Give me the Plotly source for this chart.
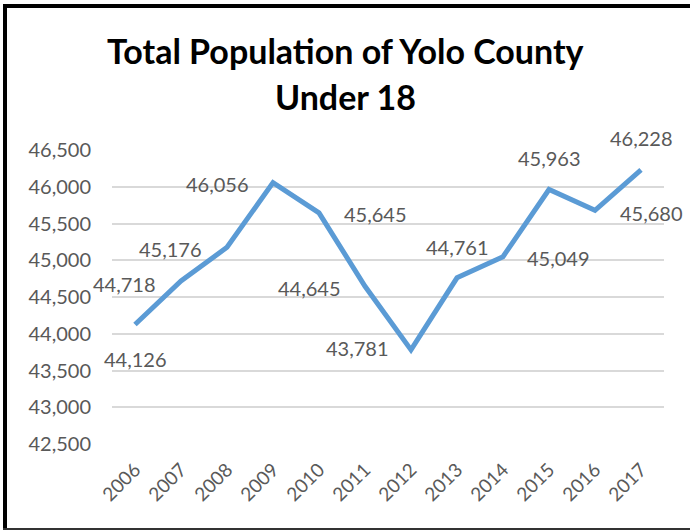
import plotly.graph_objects as go

years = [2006, 2007, 2008, 2009, 2010, 2011, 2012, 2013, 2014, 2015, 2016, 2017]
population = [44126, 44718, 45176, 46056, 45645, 44645, 43781, 44761, 45049, 45963, 45680, 46228]
title_lines = ["Total Population of Yolo County", "Under 18"]
# label placement relative to each point: (dx px, dy px)
label_offsets = [(0, 35), (-57, 3), (-57, 2), (-56, 1), (56, 1), (-56, 2), (-54, -2),
                 (0, -31), (55, 1), (0, -31), (56, 3), (0, -32)]

W, H = 690, 531
L, R, T, B = 112, 26, 150, 87
FONT = "Lato"
GRAY = "#595959"

fig = go.Figure()
fig.add_trace(go.Scatter(
    x=years, y=population, mode="lines",
    line=dict(color="#5B9BD5", width=5), hoverinfo="x+y",
))

for yr, v, (dx, dy) in zip(years, population, label_offsets):
    fig.add_annotation(x=yr, y=v, text=f"{v:,}", showarrow=True, arrowcolor="rgba(0,0,0,0)",
                       ax=dx, ay=dy, font=dict(family=FONT, size=20, color=GRAY))

pw, ph = W - L - R, H - T - B
def px(xp):
    return (xp - L) / pw
def py(yp):
    return (H - B - yp) / ph

for line, yc in zip(title_lines, [50, 97]):
    fig.add_annotation(xref="paper", yref="paper", x=px(W / 2), y=py(yc),
                       xanchor="center", yanchor="middle", showarrow=False,
                       text=f"<b>{line}</b>", font=dict(family=FONT, size=34, color="black"))

# chart frame (thick left/top, thin bottom)
fig.add_shape(type="line", xref="paper", yref="paper", x0=px(5), x1=px(5), y0=py(530), y1=py(4),
              line=dict(color="black", width=4), layer="above")
fig.add_shape(type="line", xref="paper", yref="paper", x0=px(3), x1=px(690), y0=py(6), y1=py(6),
              line=dict(color="black", width=4), layer="above")
fig.add_shape(type="line", xref="paper", yref="paper", x0=px(3), x1=px(690), y0=py(529), y1=py(529),
              line=dict(color="#333333", width=2), layer="above")

fig.update_layout(
    width=W, height=H,
    margin=dict(l=L, r=R, t=T, b=B),
    paper_bgcolor="white", plot_bgcolor="white",
    showlegend=False,
    xaxis=dict(range=[2005.5, 2017.5], tickmode="array", tickvals=years,
               ticktext=[str(y) for y in years], showgrid=False, zeroline=False,
               showline=False, tickangle=-45, ticklabelstandoff=10,
               tickfont=dict(family=FONT, size=19, color=GRAY)),
    yaxis=dict(range=[42500, 46500], dtick=500, tickformat=",", showgrid=True,
               gridcolor="#D9D9D9", gridwidth=1.5, zeroline=False, showline=False,
               ticklabelstandoff=20,
               tickfont=dict(family=FONT, size=20, color=GRAY)),
)

fig.write_html("out.html", config={"displayModeBar": False},
               post_script="document.body.style.margin='0';")
